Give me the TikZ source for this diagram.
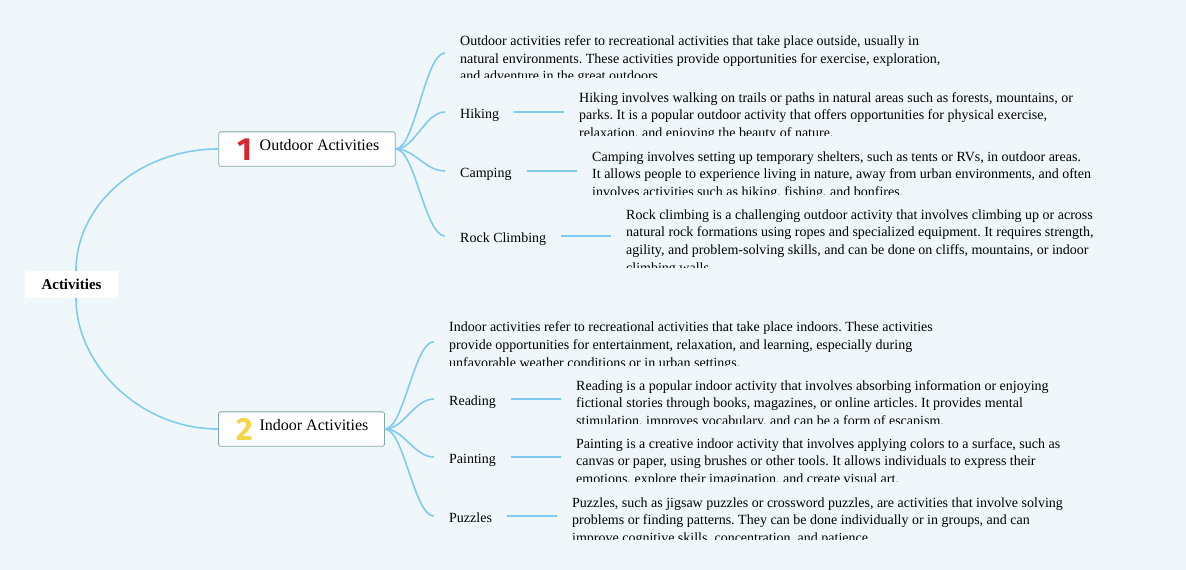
\documentclass[tikz,border=0pt]{standalone}
\usepackage{fontspec}
\setmainfont{Liberation Serif}
\newfontfamily\iconfont{Fira Sans}
\usepackage{xcolor}
\usetikzlibrary{arrows.meta}
\frenchspacing

\definecolor{bgblue}{HTML}{F0F7FB}
\definecolor{branchblue}{HTML}{80CBEF}
\definecolor{boxline}{HTML}{7FA9A3}
\definecolor{iconred}{HTML}{D9252E}
\definecolor{iconyellow}{HTML}{F5D546}

\newcommand{\topicicon}[2]{\raisebox{-9.3pt}[0pt][0pt]{\makebox[21pt]{\iconfont\bfseries\fontsize{32}{32}\selectfont\color{#2}#1}}\hspace{4pt}}

\begin{document}
\begin{tikzpicture}[
      x=1pt, y=-1pt,
      every node/.style={font=\fontsize{14}{17.7}\selectfont},
      root/.style={
        fill=white, rounded corners=2pt,
        minimum width=93pt, minimum height=27pt,
        font=\fontsize{15}{18}\selectfont\bfseries
      },
      topic/.style={
        draw=boxline, fill=white, rounded corners=1.5pt, line width=0.8pt,
        inner xsep=16pt, minimum height=34.3pt,
        text height=9.6pt, text depth=6.2pt,
        font=\fontsize{16}{19}\selectfont
      },
      leaf/.style={
        anchor=base west, inner xsep=15pt, inner ysep=0pt,
        text height=12pt, text depth=0pt
      },
      desc/.style={anchor=base west, align=left, inner xsep=15pt, inner ysep=0pt},
      branch/.style={draw=branchblue, line width=1.6pt},
      link/.style={draw=branchblue, line width=2pt}
    ]
    \useasboundingbox (0,0) rectangle (1186,570);
    \fill[bgblue] (0,0) rectangle (1186,570);

    \node[root] (activities) at (71.5,284.5) {Activities};
    \node[topic] (outdoor) at (307,149) {\topicicon{1}{iconred}Outdoor Activities};
    \node[topic] (indoor) at (301.5,429) {\topicicon{2}{iconyellow}Indoor Activities};

    % outdoor side
    \node[leaf] (hiking) at (445,118) {Hiking};
    \node[leaf] (camping) at (445,177) {Camping};
    \node[leaf] (rock) at (445,242) {Rock Climbing};

    % descriptions sit on their last line, cut off at the bottom
    \begin{scope}
      \clip (440,30) rectangle (1186,77);
      \node[desc] (outdoordesc) at (445,80.9) {Outdoor activities refer to recreational activities that take place outside, usually in\\
        natural environments. These activities provide opportunities for exercise, exploration,\\
        and adventure in the great outdoors.};
    \end{scope}
    \begin{scope}
      \clip (560,87) rectangle (1186,135);
      \node[desc] (hikingdesc) at (564,137.4) {Hiking involves walking on trails or paths in natural areas such as forests, mountains, or\\
        parks. It is a popular outdoor activity that offers opportunities for physical exercise,\\
        relaxation, and enjoying the beauty of nature.};
    \end{scope}
    \begin{scope}
      \clip (570,146) rectangle (1186,194);
      \node[desc] (campingdesc) at (577,196.4) {Camping involves setting up temporary shelters, such as tents or RVs, in outdoor areas.\\
        It allows people to experience living in nature, away from urban environments, and often\\
        involves activities such as hiking, fishing, and bonfires.};
    \end{scope}
    \begin{scope}
      \clip (605,204) rectangle (1186,267);
      \node[desc] (rockdesc) at (611,272.1) {Rock climbing is a challenging outdoor activity that involves climbing up or across\\
        natural rock formations using ropes and specialized equipment. It requires strength,\\
        agility, and problem-solving skills, and can be done on cliffs, mountains, or indoor\\
        climbing walls.};
    \end{scope}

    % indoor side
    \node[leaf] (reading) at (434,405) {Reading};
    \node[leaf] (painting) at (434,463) {Painting};
    \node[leaf] (puzzles) at (434,522) {Puzzles};

    \begin{scope}
      \clip (430,316) rectangle (1186,365);
      \node[desc] (indoordesc) at (434,367.1) {Indoor activities refer to recreational activities that take place indoors. These activities\\
        provide opportunities for entertainment, relaxation, and learning, especially during\\
        unfavorable weather conditions or in urban settings.};
    \end{scope}
    \begin{scope}
      \clip (555,375) rectangle (1186,423);
      \node[desc] (readingdesc) at (561,425.4) {Reading is a popular indoor activity that involves absorbing information or enjoying\\
        fictional stories through books, magazines, or online articles. It provides mental\\
        stimulation, improves vocabulary, and can be a form of escapism.};
    \end{scope}
    \begin{scope}
      \clip (555,433) rectangle (1186,481);
      \node[desc] (paintingdesc) at (561,483.4) {Painting is a creative indoor activity that involves applying colors to a surface, such as\\
        canvas or paper, using brushes or other tools. It allows individuals to express their\\
        emotions, explore their imagination, and create visual art.};
    \end{scope}
    \begin{scope}
      \clip (550,492) rectangle (1186,539);
      \node[desc] (puzzlesdesc) at (557,542.4) {Puzzles, such as jigsaw puzzles or crossword puzzles, are activities that involve solving\\
        problems or finding patterns. They can be done individually or in groups, and can\\
        improve cognitive skills, concentration, and patience.};
    \end{scope}

    % root branches
    \draw[branch] ([xshift=4.5pt]activities.north) .. controls (76,204) and (140,149) .. (outdoor.west);
    \draw[branch] ([xshift=4.5pt]activities.south) .. controls (76,365) and (140,429) .. (indoor.west);

    % outdoor branches
    \draw[branch] (outdoor.east) .. controls (415,149) and (425,53) .. ([yshift=27.9pt]outdoordesc.base west);
    \draw[branch] (outdoor.east) .. controls (415,149) and (425,112) .. (hiking.west);
    \draw[branch] (outdoor.east) .. controls (415,149) and (425,171) .. (camping.west);
    \draw[branch] (outdoor.east) .. controls (415,149) and (425,236) .. (rock.west);

    % indoor branches
    \draw[branch] (indoor.east) .. controls (404,429) and (414,341.7) .. ([yshift=25.4pt]indoordesc.base west);
    \draw[branch] (indoor.east) .. controls (404,429) and (414,399) .. (reading.west);
    \draw[branch] (indoor.east) .. controls (404,429) and (414,457) .. (painting.west);
    \draw[branch] (indoor.east) .. controls (404,429) and (414,516) .. (puzzles.west);

    % label to description
    \draw[link] (hiking.east) -- (hiking.east -| hikingdesc.west);
    \draw[link] (camping.east) -- (camping.east -| campingdesc.west);
    \draw[link] (rock.east) -- (rock.east -| rockdesc.west);
    \draw[link] (reading.east) -- (reading.east -| readingdesc.west);
    \draw[link] (painting.east) -- (painting.east -| paintingdesc.west);
    \draw[link] (puzzles.east) -- (puzzles.east -| puzzlesdesc.west);
  \end{tikzpicture}
\end{document}
